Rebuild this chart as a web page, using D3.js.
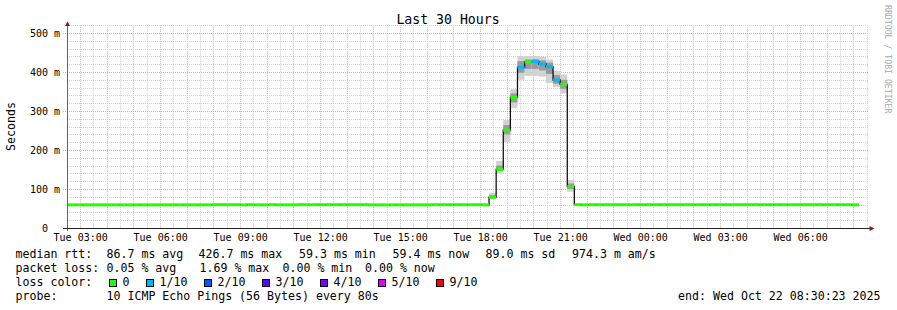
<!DOCTYPE html>
<html><head><meta charset="utf-8">
<script src="https://cdn.jsdelivr.net/npm/d3@7"></script>
<style>
html,body{margin:0;padding:0;background:#fff;}
svg{display:block;}
text{font-family:"DejaVu Sans Mono",monospace;fill:#000;}
</style></head><body>
<svg id="c" width="897" height="310"></svg>
<script>
// ---------- data ----------
const titleText = "Last 30 Hours";
const yAxisLabel = "Seconds";
const credit = "RRDTOOL / TOBI OETIKER";
const rangeHours = 30;
const stepMinutes = 16;
// median RTT per 16-minute bucket (ms), first bucket ends Tue 02:36
const medianMs = [
  59.4,59.4,59.4,59.4,59.4,59.4,59.4,59.4,59.4,59.4,
  59.4,59.4,59.4,59.4,59.4,59.4,59.4,59.4,59.4,59.4,
  59.4,59.8,59.8,59.8,59.8,59.4,59.8,59.4,59.4,59.8,
  59.4,59.4,59.4,59.8,59.8,59.8,59.8,59.8,59.8,59.8,
  59.8,59.8,59.8,59.4,59.4,59.3,59.4,59.4,59.4,59.4,
  59.4,59.4,59.8,59.8,59.8,59.8,59.8,59.8,59.8,59.4,
  79,151,251,335,412,425.6,426.7,420.5,413.6,379.5,
  368.5,106,59.8,59.4,59.8,59.8,59.8,59.8,59.8,59.8,
  59.8,59.8,59.8,59.8,59.8,59.8,59.8,59.8,59.8,59.8,
  59.8,59.8,59.8,59.8,59.8,59.8,59.8,59.8,59.8,59.8,
  59.8,59.8,59.8,59.8,59.8,59.8,59.8,59.8,59.8,59.8,
  59.8,59.4
];
// packet loss per bucket (%)
const lossPct = [
  0,0,0,0,0,0,0,0,0,0, 0,0,0,0,0,0,0,0,0,0,
  0,0,0,0,0,0,0,0,0,0, 0,0,0,0,0,0,0,0,0,0,
  0,0,0,0,0,0,0,0,0,0, 0,0,0,0,0,0,0,0,0,0,
  0,0,0,0,0.83,0,1.11,0.83,1.69,1.11, 0,0,0,0,0,0,0,0,0,0,
  0,0,0,0,0,0,0,0,0,0, 0,0,0,0,0,0,0,0,0,0,
  0,0,0,0,0,0,0,0,0,0, 0,0
];
// smoke (spread of the pings) for the buckets where it is visible (ms)
const smokeBucket = [60,61,62,63,64,65,66,67,68,69,70,71];
const smokeMin = [74,140,221,307,380,390,390,388,372,361,345,93];
const smokeP25 = [77,146,240,322,398,408,408,404,395,370,357,100];
const smokeP75 = [84,160,264,345,428,432,433,430,424,392,380,114];
const smokeMax = [90.5,172,277,356,441,441,441,439,432,403,394,123];

const yTickValues = [0,0.1,0.2,0.3,0.4,0.5];
const yTickLabels = ["0","100 m","200 m","300 m","400 m","500 m"];

const lossThresholds = [0,1,2,3,4,6,10];          // lost pings out of 10
const lossLegendLabels = ["0","1/10","2/10","3/10","4/10","5/10","9/10"];
const lossLegendColors = ["#26ff00","#00b8ff","#0059ff","#5e00ff","#7e00ff","#dd00ff","#ff0000"];

const rttStats = ["median rtt:","86.7 ms avg","426.7 ms max","59.3 ms min","59.4 ms now","89.0 ms sd","974.3 m am/s"];
const lossStats = ["packet loss:","0.05 % avg","1.69 % max","0.00 % min","0.00 % now"];
const lossColorTitle = "loss color:";
const probeTitle = "probe:";
const probeText = "10 ICMP Echo Pings (56 Bytes) every 80s";
const endText = "end: Wed Oct 22 08:30:23 2025";

// ---------- layout ----------
const L = 67, R = 867, B = 228;
const endTime = new Date(2025, 9, 22, 8, 30, 23);
const startTime = d3.timeHour.offset(endTime, -rangeHours);
const firstBucketEnd = new Date(2025, 9, 21, 2, 36, 0);

const x = d3.scaleTime().domain([startTime, endTime]).range([L, R]);
const y = d3.scaleLinear().domain([0, 0.52]).range([B, B - 0.52 * 390]);
const T = y(0.52);

const svg = d3.select("#c");
svg.append("rect").attr("width", 897).attr("height", 310).attr("fill", "#fff");

const buckets = medianMs.map((m, i) => {
  const e = d3.timeMinute.offset(firstBucketEnd, i * stepMinutes);
  return { i, start: d3.timeMinute.offset(e, -stepMinutes), end: e, v: m / 1000, loss: lossPct[i] };
});
function lossColor(p) {
  const pings = p / 100 * 10;
  let k = lossThresholds.findIndex(t => pings <= t + 1e-9);
  if (k < 0) k = lossThresholds.length - 1;
  return lossLegendColors[k];
}

// ---------- grid ----------
const grid = svg.append("g");
const halfHours = d3.timeMinute.every(30).range(startTime, d3.timeSecond.offset(endTime, 1));
halfHours.forEach(t => {
  const major = t.getMinutes() === 0;
  grid.append("line")
    .attr("x1", Math.round(x(t)) + 0.5).attr("x2", Math.round(x(t)) + 0.5)
    .attr("y1", T).attr("y2", B)
    .attr("stroke", major ? "#f2a3a3" : "#cfcfcf")
    .attr("stroke-dasharray", "1,1");
});
y.ticks(26).forEach(v => {
  const major = yTickValues.some(m => Math.abs(m - v) < 1e-9);
  if (v === 0) return;
  grid.append("line")
    .attr("x1", major ? 63 : L).attr("x2", R + 1)
    .attr("y1", Math.round(y(v)) + 0.5).attr("y2", Math.round(y(v)) + 0.5)
    .attr("stroke", major ? "#f2a3a3" : "#cfcfcf")
    .attr("stroke-dasharray", "1,1");
});

// ---------- data marks ----------
svg.append("clipPath").attr("id", "plot").append("rect")
  .attr("x", L).attr("y", T).attr("width", R - L).attr("height", B - T);
const data = svg.append("g").attr("clip-path", "url(#plot)");

smokeBucket.forEach((bi, k) => {
  const b = buckets[bi];
  const x0 = x(b.start), x1 = x(b.end);
  data.append("rect").attr("x", x0).attr("width", x1 - x0)
    .attr("y", y(smokeMax[k] / 1000)).attr("height", y(smokeMin[k] / 1000) - y(smokeMax[k] / 1000))
    .attr("fill", "#d2d2d2");
  data.append("rect").attr("x", x0).attr("width", x1 - x0)
    .attr("y", y(smokeP75[k] / 1000)).attr("height", y(smokeP25[k] / 1000) - y(smokeP75[k] / 1000))
    .attr("fill", "#9a9a9a");
});

const stepPts = buckets.flatMap(b => [[b.start, b.v], [b.end, b.v]]);
data.append("path")
  .attr("d", d3.line().x(d => x(d[0])).y(d => y(d[1]))(stepPts))
  .attr("fill", "none").attr("stroke", "#111").attr("stroke-width", 1.3);

data.selectAll("rect.med").data(buckets).join("rect").attr("class", "med")
  .attr("x", b => x(b.start)).attr("width", b => x(b.end) - x(b.start))
  .attr("y", b => y(b.v) - 1.5).attr("height", 3)
  .attr("fill", b => lossColor(b.loss));

// ---------- axes ----------
const xAxis = d3.axisBottom(x).ticks(d3.timeHour.every(3))
  .tickFormat(d3.timeFormat("%a %H:%M")).tickSize(0).tickPadding(6);
const gx = svg.append("g").attr("transform", `translate(0,${B})`).call(xAxis);
gx.select(".domain").remove();
gx.selectAll("text").attr("font-size", "10px").attr("font-family", "DejaVu Sans Mono").attr("fill", "#000");

const yAxis = d3.axisLeft(y).tickValues(yTickValues)
  .tickFormat((d, i) => yTickLabels[i].includes(" ") ? yTickLabels[i] : yTickLabels[i] + "  ")
  .tickSize(0).tickPadding(7);
const gy = svg.append("g").attr("transform", `translate(${L},0)`).call(yAxis);
gy.select(".domain").remove();
gy.selectAll("text").attr("font-size", "10px").attr("font-family", "DejaVu Sans Mono")
  .attr("fill", "#000").attr("xml:space", "preserve").style("white-space", "pre");

// axis lines + arrows
svg.append("line").attr("x1", L + 0.5).attr("x2", L + 0.5).attr("y1", T).attr("y2", B + 3)
  .attr("stroke", "#666").attr("stroke-width", 1);
svg.append("line").attr("x1", 63).attr("x2", R + 3).attr("y1", B + 0.5).attr("y2", B + 0.5)
  .attr("stroke", "#222").attr("stroke-width", 1);
svg.append("path").attr("d", `M${L + 0.5},${T - 4} L${L + 3},${T + 0.8} L${L - 2},${T + 0.8} Z`).attr("fill", "#8b1a1a");
svg.append("path").attr("d", `M${R + 7.5},${B + 0.5} L${R + 2.5},${B - 2} L${R + 2.5},${B + 3} Z`).attr("fill", "#8b1a1a");

// ---------- titles ----------
svg.append("text").attr("x", 448).attr("y", 24).attr("text-anchor", "middle")
  .attr("font-size", "13.2px").text(titleText);
svg.append("text").attr("transform", "translate(14.5,126.5) rotate(-90)")
  .attr("text-anchor", "middle").attr("font-size", "11.6px").text(yAxisLabel);
svg.append("text").attr("transform", "translate(885,5) rotate(90)")
  .attr("font-size", "8.2px").attr("fill", "#a8a8a8").style("fill", "#a8a8a8").text(credit);

// ---------- legend ----------
const lg = svg.append("g").attr("font-size", "11.6px");
const rowY = [257.7, 271.7, 285.7, 299.5];
const rttX = [15.5, 106.5, 198.5, 299, 392.5, 485.5, 572];
rttStats.forEach((s, i) => lg.append("text").attr("x", rttX[i]).attr("y", rowY[0]).text(s));
const lossX = [15.5, 106.5, 199.5, 282.5, 365];
lossStats.forEach((s, i) => lg.append("text").attr("x", lossX[i]).attr("y", rowY[1]).text(s));
lg.append("text").attr("x", 15.5).attr("y", rowY[2]).text(lossColorTitle);
const boxX = [109, 146, 204, 262, 320, 378, 436];
lossLegendLabels.forEach((s, i) => {
  lg.append("rect").attr("x", boxX[i] + 0.5).attr("y", 279.5).attr("width", 7).attr("height", 7)
    .attr("fill", lossLegendColors[i]).attr("stroke", "#000").attr("stroke-width", 1);
  lg.append("text").attr("x", boxX[i] + 13.5).attr("y", rowY[2]).text(s);
});
lg.append("text").attr("x", 15.5).attr("y", rowY[3]).text(probeTitle);
lg.append("text").attr("x", 106.5).attr("y", rowY[3]).text(probeText);
lg.append("text").attr("x", 880.5).attr("y", rowY[3]).attr("text-anchor", "end").text(endText);
</script>
</body></html>
